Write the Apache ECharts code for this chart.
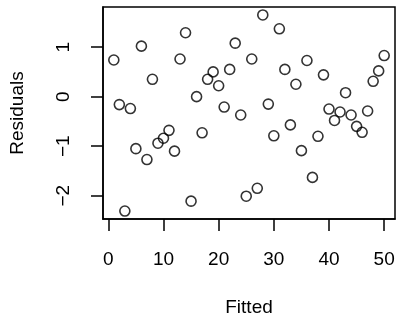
<!DOCTYPE html>
<html>
<head>
    <meta charset="UTF-8">
    <title>Residuals vs Fitted</title>
    <script type="text/javascript" src="https://cdn.jsdelivr.net/npm/echarts@6/dist/echarts.min.js"></script>
    <style>
        body { margin: 0; background: #ffffff; }
        #chart { width: 399px; height: 322px; }
    </style>
</head>
<body>
<div id="chart"></div>
<script>
    // fitted values and residuals
    var fitted = [1, 2, 3, 4, 5, 6, 7, 8, 9, 10,
        11, 12, 13, 14, 15, 16, 17, 18, 19, 20,
        21, 22, 23, 24, 25, 26, 27, 28, 29, 30,
        31, 32, 33, 34, 35, 36, 37, 38, 39, 40,
        41, 42, 43, 44, 45, 46, 47, 48, 49, 50];
    var residuals = [0.74, -0.16, -2.31, -0.24, -1.05, 1.02, -1.27, 0.35, -0.94, -0.84,
        -0.68, -1.10, 0.76, 1.29, -2.11, 0.00, -0.73, 0.35, 0.50, 0.22,
        -0.21, 0.55, 1.08, -0.37, -2.01, 0.76, -1.85, 1.65, -0.15, -0.79,
        1.37, 0.55, -0.57, 0.25, -1.09, 0.73, -1.63, -0.80, 0.44, -0.25,
        -0.48, -0.31, 0.08, -0.37, -0.60, -0.72, -0.29, 0.31, 0.52, 0.83];
    var xTicks = [0, 10, 20, 30, 40, 50];
    var yTicks = [-2, -1, 0, 1];

    var points = [];
    for (var i = 0; i < fitted.length; i++) {
        points.push([fitted[i], residuals[i]]);
    }

    var fontFamily = 'Liberation Sans, Arial, sans-serif';

    var chart = echarts.init(document.getElementById('chart'), null, {renderer: 'canvas'});
    chart.setOption({
        animation: false,
        backgroundColor: '#ffffff',
        grid: {
            left: 103, top: 7, right: 4, bottom: 99,
            show: true,
            borderColor: '#000000',
            borderWidth: 1.5,
            backgroundColor: 'transparent'
        },
        xAxis: {
            type: 'value',
            min: -0.96,
            max: 51.96,
            position: 'bottom',
            name: 'Fitted',
            nameLocation: 'middle',
            nameGap: 79,
            nameTextStyle: {color: '#000', fontSize: 19, fontFamily: fontFamily, verticalAlign: 'top'},
            axisLine: {show: true, onZero: false, lineStyle: {color: '#000', width: 1.5}},
            splitLine: {show: false},
            axisTick: {show: true, inside: false, length: 12, customValues: xTicks, lineStyle: {color: '#000', width: 1.5}},
            axisLabel: {color: '#000', fontSize: 19, fontFamily: fontFamily, margin: 31, customValues: xTicks}
        },
        yAxis: {
            type: 'value',
            min: -2.47,
            max: 1.81,
            position: 'left',
            name: 'Residuals',
            nameLocation: 'middle',
            nameGap: 76,
            nameTextStyle: {color: '#000', fontSize: 19, fontFamily: fontFamily},
            axisLine: {show: true, onZero: false, lineStyle: {color: '#000', width: 1.5}},
            splitLine: {show: false},
            axisTick: {show: true, inside: false, length: 12, customValues: yTicks, lineStyle: {color: '#000', width: 1.5}},
            axisLabel: {
                color: '#000', fontSize: 19, fontFamily: fontFamily, margin: 30, rotate: 90,
                customValues: yTicks,
                formatter: function (v) { return String(v).replace('-', '\u2212'); }
            }
        },
        series: [{
            type: 'scatter',
            data: points,
            symbol: 'circle',
            symbolSize: 10,
            itemStyle: {color: 'rgba(0,0,0,0)', borderColor: '#000', borderWidth: 1.6},
            emphasis: {disabled: true}
        }]
    });
</script>
</body>
</html>
